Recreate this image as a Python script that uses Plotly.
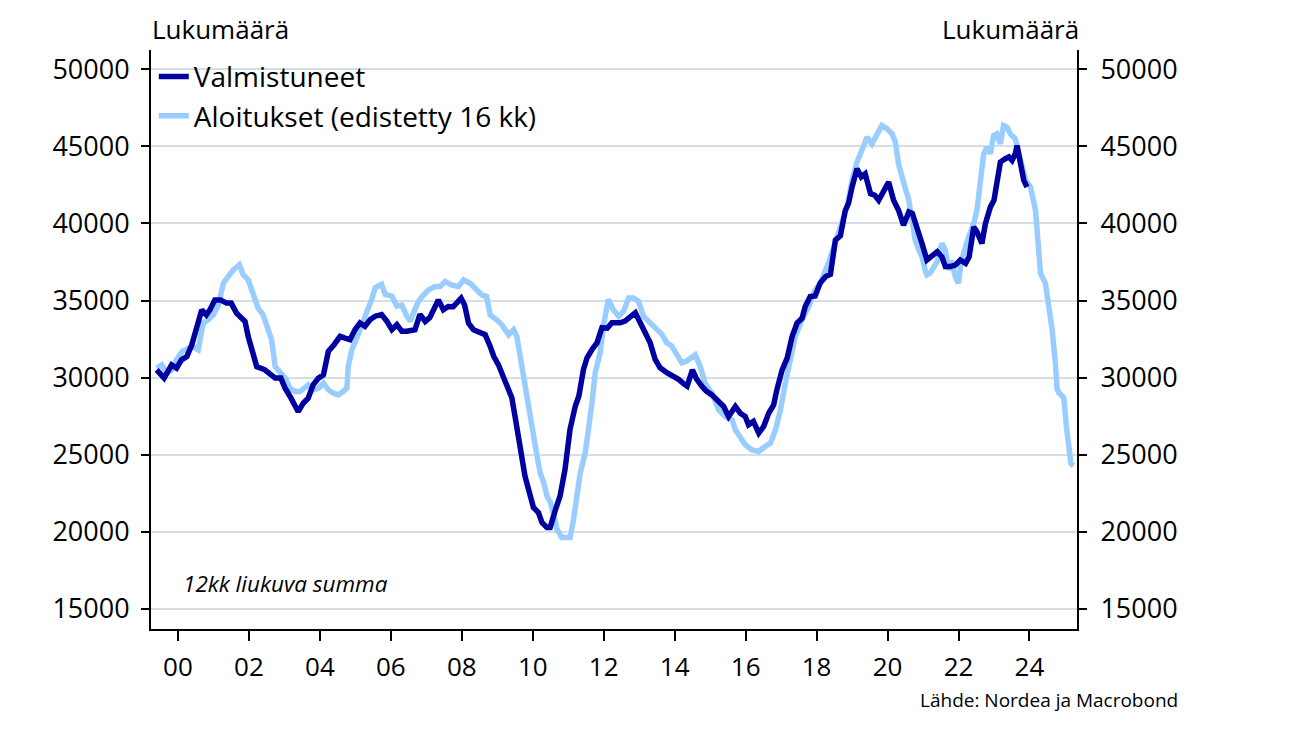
import plotly.graph_objects as go

# ---- Data (12-month rolling sums), x in decimal years ----
valm_x = [1999.4, 1999.5, 1999.61, 1999.82, 1999.96, 2000.1, 2000.25, 2000.39, 2000.53, 2000.67,
          2000.8, 2000.9, 2001.04, 2001.2, 2001.37, 2001.5, 2001.65, 2001.89, 2001.98, 2002.08,
          2002.22, 2002.45, 2002.6, 2002.74, 2002.9, 2003.02, 2003.16, 2003.3, 2003.39, 2003.53,
          2003.67, 2003.81, 2003.96, 2004.1, 2004.24, 2004.4, 2004.57, 2004.71, 2004.85, 2004.99,
          2005.13, 2005.27, 2005.42, 2005.56, 2005.74, 2005.89, 2006.03, 2006.17, 2006.31, 2006.45,
          2006.59, 2006.68, 2006.82, 2006.97, 2007.1, 2007.25, 2007.34, 2007.48, 2007.62, 2007.76,
          2007.86, 2007.98, 2008.08, 2008.19, 2008.33, 2008.47, 2008.66, 2008.8, 2008.9, 2009.03,
          2009.17, 2009.29, 2009.41, 2009.5, 2009.6, 2009.69, 2009.78, 2009.88, 2010.02, 2010.16,
          2010.26, 2010.4, 2010.49, 2010.63, 2010.77, 2010.91, 2011.05, 2011.2, 2011.3, 2011.43,
          2011.53, 2011.67, 2011.81, 2011.95, 2012.1, 2012.23, 2012.46, 2012.6, 2012.75, 2012.89,
          2013.03, 2013.17, 2013.31, 2013.45, 2013.59, 2013.78, 2013.97, 2014.11, 2014.25, 2014.35,
          2014.5, 2014.62, 2014.77, 2014.9, 2015.05, 2015.24, 2015.38, 2015.52, 2015.71, 2015.85,
          2015.99, 2016.08, 2016.22, 2016.37, 2016.51, 2016.65, 2016.79, 2016.88, 2017.03, 2017.17,
          2017.31, 2017.45, 2017.59, 2017.68, 2017.82, 2017.96, 2018.1, 2018.25, 2018.39, 2018.53,
          2018.67, 2018.81, 2018.9, 2019.0, 2019.14, 2019.26, 2019.37, 2019.52, 2019.64, 2019.75,
          2019.9, 2020.03, 2020.17, 2020.31, 2020.45, 2020.6, 2020.7, 2020.83, 2020.97, 2021.11,
          2021.25, 2021.4, 2021.53, 2021.63, 2021.77, 2021.91, 2022.05, 2022.2, 2022.3, 2022.43,
          2022.52, 2022.66, 2022.76, 2022.9, 2023.0, 2023.09, 2023.18, 2023.32, 2023.42, 2023.51,
          2023.6, 2023.65, 2023.75, 2023.84, 2023.93]
valm_y = [30500, 30170, 29960, 30820, 30610, 31150, 31360, 32120, 33310, 34390,
          34070, 34390, 35040, 35040, 34830, 34830, 34180, 33640, 32660, 31800,
          30710, 30500, 30170, 29960, 29960, 29300, 28770, 28110, 27780, 28330,
          28650, 29520, 29960, 30170, 31700, 32130, 32670, 32560, 32460, 33110,
          33540, 33330, 33760, 33980, 34090, 33650, 33110, 33430, 33000, 33000,
          33110, 33100, 34100, 33640, 33900, 34720, 35040, 34400, 34610, 34600,
          34830, 35150, 34700, 33530, 33100, 32990, 32780, 32020, 31380, 30840,
          30080, 29430, 28680, 27490, 26200, 24680, 23610, 22740, 21560, 21230,
          20580, 20260, 20260, 21340, 22310, 24040, 26630, 28150, 28800, 30530,
          31280, 31820, 32250, 33230, 33200, 33550, 33550, 33660, 33980, 34200,
          33550, 32900, 32250, 31170, 30630, 30310, 30090, 29880, 29600, 29440,
          30500, 29900, 29420, 29100, 28870, 28440, 28120, 27470, 28120, 27680,
          27470, 26930, 27150, 26390, 26830, 27680, 28220, 29200, 30500, 31260,
          32660, 33530, 33850, 34610, 35260, 35300, 36130, 36550, 36700, 38920,
          39200, 40860, 41300, 42370, 43560, 43020, 43230, 41940, 41830, 41510,
          42150, 42690, 41510, 40860, 39890, 40750, 40650, 39570, 38710, 37630,
          37840, 38170, 37840, 37200, 37200, 37300, 37630, 37410, 37840, 39780,
          39460, 38700, 40000, 41080, 41510, 42800, 43990, 44210, 44320, 44100,
          44530, 45060, 43900, 42800, 42370]

alo_x = [1999.4, 1999.54, 1999.68, 1999.82, 1999.96, 2000.12, 2000.29, 2000.43, 2000.57, 2000.71,
         2000.85, 2001.0, 2001.14, 2001.28, 2001.42, 2001.56, 2001.73, 2001.84, 2001.98, 2002.12,
         2002.26, 2002.4, 2002.55, 2002.64, 2002.74, 2002.88, 2003.02, 2003.16, 2003.3, 2003.44,
         2003.58, 2003.67, 2003.81, 2003.96, 2004.1, 2004.24, 2004.38, 2004.52, 2004.66, 2004.76,
         2004.8, 2004.9, 2005.04, 2005.18, 2005.32, 2005.46, 2005.56, 2005.74, 2005.84, 2006.03,
         2006.17, 2006.31, 2006.45, 2006.55, 2006.64, 2006.78, 2006.9, 2007.06, 2007.25, 2007.39,
         2007.53, 2007.72, 2007.91, 2008.05, 2008.24, 2008.38, 2008.56, 2008.7, 2008.8, 2008.98,
         2009.13, 2009.32, 2009.46, 2009.55, 2009.64, 2009.74, 2009.83, 2009.93, 2010.02, 2010.12,
         2010.21, 2010.31, 2010.4, 2010.5, 2010.6, 2010.68, 2010.82, 2011.05, 2011.15, 2011.24,
         2011.34, 2011.48, 2011.57, 2011.67, 2011.76, 2011.9, 2011.99, 2012.13, 2012.27, 2012.42,
         2012.56, 2012.7, 2012.84, 2012.98, 2013.12, 2013.31, 2013.5, 2013.64, 2013.78, 2013.92,
         2014.06, 2014.2, 2014.34, 2014.45, 2014.58, 2014.72, 2014.86, 2015.05, 2015.24, 2015.43,
         2015.62, 2015.71, 2015.85, 2015.99, 2016.18, 2016.37, 2016.55, 2016.7, 2016.84, 2016.98,
         2017.12, 2017.26, 2017.4, 2017.59, 2017.78, 2017.96, 2018.1, 2018.35, 2018.53, 2018.72,
         2018.86, 2019.0, 2019.14, 2019.33, 2019.42, 2019.56, 2019.7, 2019.84, 2019.98, 2020.13,
         2020.22, 2020.31, 2020.41, 2020.5, 2020.6, 2020.69, 2020.78, 2020.88, 2020.97, 2021.06,
         2021.11, 2021.2, 2021.3, 2021.4, 2021.53, 2021.63, 2021.72, 2021.8, 2021.91, 2022.0,
         2022.05, 2022.14, 2022.29, 2022.43, 2022.52, 2022.6, 2022.71, 2022.8, 2022.9, 2022.99,
         2023.08, 2023.18, 2023.27, 2023.37, 2023.46, 2023.6, 2023.74, 2023.89, 2024.03, 2024.12,
         2024.17, 2024.26, 2024.31, 2024.45, 2024.54, 2024.64, 2024.73, 2024.78, 2024.83, 2024.97,
         2025.04, 2025.11, 2025.17, 2025.24]
alo_y = [30610, 30820, 30280, 30500, 31150, 31690, 31900, 32000, 31800, 33530,
         33740, 34070, 34720, 36130, 36560, 36990, 37320, 36670, 36340, 35480,
         34500, 34070, 33200, 32450, 30710, 30280, 29960, 29300, 29090, 29090,
         29300, 29520, 29200, 29300, 29630, 29200, 28980, 28870, 29100, 29300,
         30720, 31800, 32570, 33330, 34090, 35070, 35830, 36040, 35390, 35280,
         34630, 34700, 33980, 33650, 34200, 34960, 35300, 35690, 35910, 35910,
         36230, 36000, 35910, 36340, 36100, 35800, 35370, 35250, 34070, 33750,
         33420, 32780, 33100, 32670, 31380, 30080, 28790, 27490, 25980, 24900,
         23820, 23170, 22310, 21880, 21000, 20150, 19610, 19610, 20800, 22310,
         23820, 25120, 26420, 28360, 30310, 31610, 33340, 35060, 34400, 33980,
         34300, 35170, 35170, 34950, 33980, 33550, 33230, 32800, 32250, 32030,
         31500, 30960, 31070, 31300, 31470, 30720, 29630, 28990, 27900, 27470,
         27250, 26600, 26060, 25630, 25300, 25200, 25520, 25740, 26600, 27900,
         29630, 31360, 32660, 33750, 34610, 35690, 36100, 37520, 38800, 40220,
         41080, 42800, 43990, 45060, 45600, 45170, 45710, 46360, 46150, 45820,
         45280, 43880, 43020, 42370, 41510, 40220, 38920, 38280, 37840, 36980,
         36660, 36770, 37090, 37520, 38710, 38280, 36980, 37600, 36550, 36120,
         37100, 38060, 39140, 40000, 40860, 42370, 44530, 44960, 44530, 45710,
         45820, 45170, 46360, 46250, 45820, 45500, 44320, 42800, 42370, 41080,
         40860, 38280, 36770, 36120, 34830, 33100, 30950, 29230, 29010, 28690,
         26850, 25130, 24400, 24270]

year_ticks = [2000, 2002, 2004, 2006, 2008, 2010, 2012, 2014, 2016, 2018, 2020, 2022, 2024]
year_labels = ["00", "02", "04", "06", "08", "10", "12", "14", "16", "18", "20", "22", "24"]
y_ticks = [15000, 20000, 25000, 30000, 35000, 40000, 45000, 50000]

DARK = "#0000A0"
LIGHT = "#99CCFF"
FONT = "Open Sans"
y_range = [13670, 51265]

fig = go.Figure()
fig.add_trace(go.Scatter(x=valm_x, y=valm_y, name="Valmistuneet", mode="lines",
                         line=dict(color=DARK, width=5.5), yaxis="y2"))
fig.add_trace(go.Scatter(x=alo_x, y=alo_y, name="Aloitukset (edistetty 16 kk)", mode="lines",
                         line=dict(color=LIGHT, width=5.5), yaxis="y"))

fig.update_layout(
    width=1292, height=723,
    paper_bgcolor="white", plot_bgcolor="white",
    margin=dict(l=143, r=223, t=42, b=102, autoexpand=False),
    font=dict(family=FONT, size=28, color="black"),
    showlegend=True,
    legend=dict(x=0.003, y=0.997, xanchor="left", yanchor="top",
                bgcolor="rgba(0,0,0,0)", font=dict(size=28, family=FONT),
                itemwidth=30, tracegroupgap=0, traceorder="normal"),
    xaxis=dict(range=[1999.24, 2025.34], tickvals=year_ticks, ticktext=year_labels,
               showgrid=False, zeroline=False, showline=True, linecolor="black", linewidth=2,
               ticks="outside", ticklen=10, tickwidth=1.5, tickcolor="black",
               tickfont=dict(size=26), ticklabelstandoff=4, automargin=False),
    yaxis=dict(range=y_range, tickvals=y_ticks, showgrid=True, gridcolor="#D5DEE6", gridwidth=2,
               zeroline=False, showline=True, linecolor="black", linewidth=2,
               ticks="outside", ticklen=8, tickwidth=1.5, tickcolor="black",
               tickfont=dict(size=27), ticklabelstandoff=6, tickformat="d", automargin=False),
    yaxis2=dict(range=y_range, tickvals=y_ticks, overlaying="y", side="right",
                showgrid=False, zeroline=False, showline=True, linecolor="black", linewidth=2,
                ticks="outside", ticklen=8, tickwidth=1.5, tickcolor="black",
                tickfont=dict(size=27), ticklabelstandoff=8, tickformat="d", automargin=False),
)

fig.add_annotation(text="Lukumäärä", xref="paper", yref="paper", x=0, y=1, xshift=-1, yshift=1,
                   xanchor="left", yanchor="bottom", showarrow=False, font=dict(size=26))
fig.add_annotation(text="Lukumäärä", xref="paper", yref="paper", x=1, y=1, xshift=4, yshift=1,
                   xanchor="right", yanchor="bottom", showarrow=False, font=dict(size=26))
fig.add_annotation(text="<i>12kk liukuva summa</i>", xref="paper", yref="y",
                   x=0.032, y=16650, xanchor="left", yanchor="middle", showarrow=False,
                   font=dict(size=22.5))
fig.add_annotation(text="Lähde: Nordea ja Macrobond", xref="paper", yref="paper",
                   x=1.111, y=0, yshift=-56, xanchor="right", yanchor="top", showarrow=False,
                   font=dict(size=19))

fig.write_html("out.html")
